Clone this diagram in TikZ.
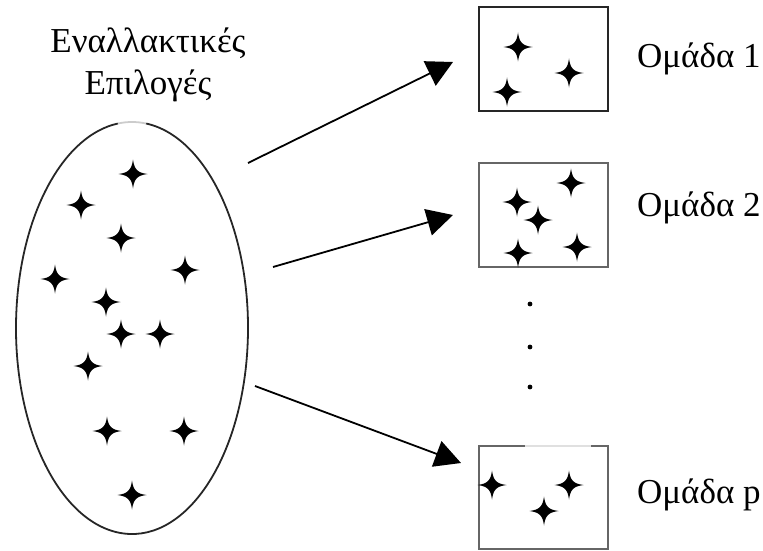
\documentclass[tikz,border=0pt]{standalone}
\usepackage{fontspec}
\setmainfont{Liberation Serif}
\usetikzlibrary{arrows.meta}
\begin{document}
\begin{tikzpicture}[x=1pt,y=-1pt,
  lbl/.style={inner sep=0pt,font=\fontsize{35}{42}\selectfont},
  outline/.style={line width=1.8pt,draw=black!85},
  grpbox/.style={line width=1.8pt,draw=black!60},
  link/.style={line width=1.8pt,-{Triangle[length=26pt,width=27pt]}},
  sparkle/.pic={\fill[black] (14.5,0) .. controls (4.5,1.3) and (1.3,4.5) .. (0,14.5)
      .. controls (-1.3,4.5) and (-4.5,1.3) .. (-14.5,0)
      .. controls (-4.5,-1.3) and (-1.3,-4.5) .. (0,-14.5)
      .. controls (1.3,-4.5) and (4.5,-1.3) .. cycle;}]
\useasboundingbox (0,0) rectangle (763,551);

% title over the set of alternatives
\node[lbl,align=center] (title) at (148,65) {Εναλλακτικές\\Επιλογές};

% set of alternatives (ellipse with a faint break at the top)
\draw[outline] (132,328) ++(277:116 and 206) arc[start angle=277,end angle=623,x radius=116,y radius=206];
\draw[line width=1.8pt,draw=black!20] (132,328) ++(263:116 and 206) arc[start angle=263,end angle=277,x radius=116,y radius=206];
\foreach \p in {(133,174),(81,205),(121,238),(185,270),(55,279),(106,302),
                (121,334),(160,334),(88,366),(107,431),(184,431),(132,495)}
  \pic at \p {sparkle};

% group 1
\node[outline,minimum width=129pt,minimum height=104pt,inner sep=0pt] (g1) at (543.5,59) {};
\foreach \p in {(518,47),(569,73),(507,92)} \pic at \p {sparkle};
\node[lbl,anchor=base west] (l1) at (637,67) {Ομάδα 1};

% group 2
\node[grpbox,minimum width=129pt,minimum height=104pt,inner sep=0pt] (g2) at (543.5,215) {};
\foreach \p in {(571,183),(517,202),(538,220),(518,253),(577,247)} \pic at \p {sparkle};
\node[lbl,anchor=base west] (l2) at (637,216) {Ομάδα 2};

% ellipsis between groups
\foreach \y/\n in {304/d1,347/d2,387/d3}
  \fill (530,\y) circle[radius=2.4pt] coordinate (\n);

% group p (top edge partly open)
\coordinate (g3a) at (525,446);
\coordinate (g3b) at (591,446);
\draw[grpbox] (g3a) -- (479,446) -- (479,549) -- (608,549) -- (608,446) -- (g3b);
\draw[line width=1.2pt,draw=black!12] (g3a) -- (g3b);
\foreach \p in {(492,485),(569,485),(544,511)} \pic at \p {sparkle};
\node[lbl,anchor=base west] (l3) at (637,503) {Ομάδα p};

% assignment arrows
\coordinate (s1) at (248,163); \coordinate (t1) at (453,62);
\coordinate (s2) at (273,267); \coordinate (t2) at (453,215);
\coordinate (s3) at (255,386); \coordinate (t3) at (461,463);
\draw[link] (s1) -- (t1);
\draw[link] (s2) -- (t2);
\draw[link] (s3) -- (t3);
\end{tikzpicture}
\end{document}
